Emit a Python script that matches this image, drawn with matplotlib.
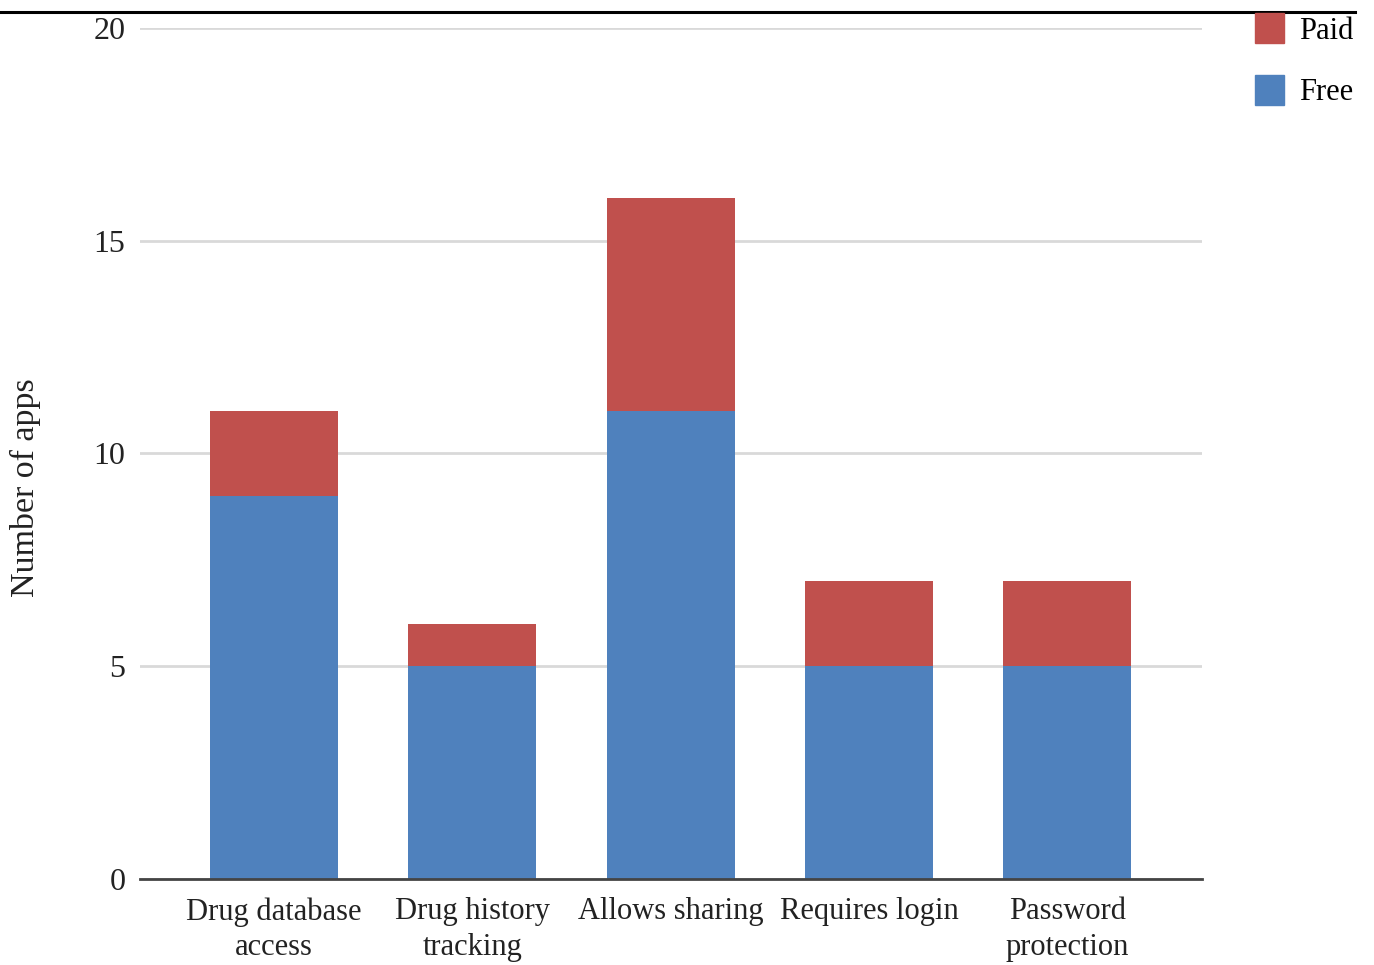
import numpy as np
import matplotlib.pyplot as plt
from matplotlib.lines import Line2D
from matplotlib.patches import Patch

# data
features = ['Drug database\naccess', 'Drug history\ntracking', 'Allows sharing',
            'Requires login', 'Password\nprotection']
free_apps = [9, 5, 11, 5, 5]
paid_apps = [2, 1, 5, 2, 2]
y_ticks = [0, 5, 10, 15, 20]

blue = '#4f81bd'
red = '#c0504d'

plt.rcParams['font.family'] = ['Liberation Serif', 'DejaVu Serif']

fig = plt.figure(figsize=(13.74, 9.65), dpi=100)
ax = fig.add_axes([140 / 1374, 86 / 965, 1062 / 1374, 851 / 965])

x = np.arange(len(features))
ax.bar(x, free_apps, width=0.646, color=blue, zorder=3)
ax.bar(x, paid_apps, width=0.646, bottom=free_apps, color=red, zorder=3)

ax.set_xlim(-0.676, 4.68)
ax.set_ylim(0, 20)
ax.set_yticks(y_ticks)
ax.yaxis.grid(True, color='#d9d9d9', linewidth=2, zorder=0)
ax.tick_params(axis='y', length=0, pad=10.5, labelsize=23, labelcolor='#222222')
ax.set_xticks(x)
ax.set_xticklabels(features, fontsize=22, linespacing=1.3)
ax.tick_params(axis='x', length=0, pad=13, labelcolor='#222222')

for side in ['top', 'right', 'left']:
    ax.spines[side].set_visible(False)
ax.spines['bottom'].set_color('#444444')
ax.spines['bottom'].set_linewidth(2)
ax.spines['bottom'].set_zorder(4)

fig.text(25 / 1374, 1 - 488 / 965, 'Number of apps', rotation=90, fontsize=24.5,
         ha='center', va='center', color='#222222')

handles = [Patch(facecolor=red, edgecolor=red), Patch(facecolor=blue, edgecolor=blue)]
fig.legend(handles, ['Paid', 'Free'], loc='upper left',
           bbox_to_anchor=(1249 / 1374, 1 - 7 / 965), frameon=False, fontsize=22,
           handlelength=0.95, handleheight=1.15, labelspacing=0.95, handletextpad=0.5,
           borderpad=0.2, borderaxespad=0)

# black rule along the top of the image
fig.add_artist(Line2D([0, 1355 / 1374], [1 - 12 / 965, 1 - 12 / 965],
                      color='black', linewidth=2.2, transform=fig.transFigure))

fig.savefig('out.png', dpi=100)
